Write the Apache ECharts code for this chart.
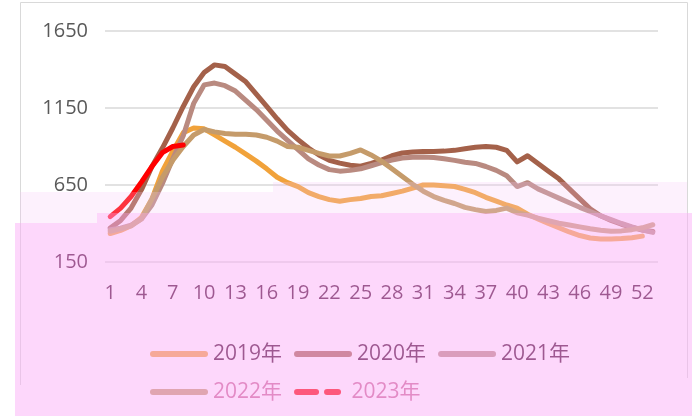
<!DOCTYPE html>
<html>
<head>
<meta charset="utf-8">
<script src="https://cdn.jsdelivr.net/npm/echarts@6/dist/echarts.min.js"></script>
<style>
  html, body { margin: 0; padding: 0; background: #fff; }
  #chart { width: 696px; height: 416px; }
</style>
</head>
<body>
<div id="chart"></div>
<script>
// weeks 1..53
const weeks = []
for (let i = 1; i <= 53; i++) weeks.push(String(i))

const yTicks = [150, 650, 1150, 1650]

const data2019 = [335, 355, 385, 440, 560, 740, 870, 990, 1020, 1015, 975, 935, 895, 850, 805, 755, 700, 665, 640, 600,
    575, 555, 545, 555, 562, 575, 580, 595, 610, 630, 650, 650, 645, 640, 622, 600, 570, 545, 520, 500,
    460, 430, 400, 372, 345, 322, 306, 300, 300, 302, 308, 318]
const data2020 = [370, 420, 500, 620, 770, 890, 1020, 1160, 1288, 1380, 1430, 1420, 1370, 1320, 1240, 1160, 1080, 1005, 945, 890,
    845, 810, 792, 778, 772, 790, 812, 840, 858, 865, 868, 868, 870, 875, 885, 895, 900, 895, 875, 800,
    840, 790, 740, 690, 625, 560, 495, 450, 420, 395, 375, 358, 348]
const data2021 = [360, 370, 390, 430, 520, 660, 820, 970, 1180, 1300, 1312, 1295, 1260, 1200, 1140, 1070, 1000, 940, 880, 820,
    780, 750, 740, 745, 755, 775, 795, 812, 825, 830, 832, 828, 820, 810, 798, 790, 770, 745, 710, 640,
    665, 625, 595, 565, 535, 505, 478, 450, 425, 400, 378, 358, 342]
const data2022 = [350, 365, 385, 430, 560, 700, 810, 900, 975, 1010, 995, 985, 980, 980, 975, 960, 935, 900, 895, 875,
    855, 838, 838, 855, 878, 845, 805, 755, 705, 655, 610, 575, 550, 530, 505, 490, 478, 485, 500, 470,
    455, 435, 418, 402, 390, 378, 366, 356, 350, 352, 360, 372, 392]
const data2023 = [445, 500, 575, 670, 770, 860, 900, 910]

const seriesNames = ['2019年', '2020年', '2021年', '2022年', '2023年']
const seriesColors = ['#F1A23A', '#A4614A', '#B98A80', '#C59B6A', '#FF0000']

const font = "'Open Sans', 'Noto Sans CJK SC', sans-serif"
const tint = '#40002A'
const tintLight = '#CB6795'
const pink = 'rgba(252,176,248,0.5)'
const pinkLight = 'rgba(247,199,247,0.25)'

// legend icons: thick rounded bar, and a two-dash bar for 2023
const solidIcon = 'path://M3,0H55A3,3,0,0,1,55,6H3A3,3,0,0,1,3,0Z'
const dashIcon = 'path://M14,0H33A3,3,0,0,1,33,6H14A3,3,0,0,1,14,0ZM44,0H55A3,3,0,0,1,55,6H44A3,3,0,0,1,44,0Z'

const allData = [data2019, data2020, data2021, data2022, data2023]

const chart = echarts.init(document.getElementById('chart'))

const options = {
    animation: false,
    grid: { left: 105, right: 38, top: 31, bottom: 154 },
    xAxis: {
        type: 'category',
        data: weeks,
        boundaryGap: true,
        axisLine: { show: false },
        axisTick: { show: false },
        axisLabel: { interval: 2, fontSize: 20, margin: 21, color: tint, fontFamily: font },
    },
    yAxis: {
        type: 'value',
        min: yTicks[0],
        max: yTicks[yTicks.length - 1],
        interval: 500,
        axisLine: { show: false },
        axisTick: { show: false },
        axisLabel: {
            fontSize: 20,
            margin: 17,
            fontFamily: font,
            formatter: (v) => String(v),
            color: (v) => (Number(v) === 150 ? tint : '#595959'),
        },
        splitLine: { lineStyle: { color: '#D9D9D9', width: 1.5 } },
    },
    legend: {
        left: 145,
        top: 336,
        width: 440,
        itemWidth: 58,
        itemHeight: 6,
        itemGap: 12,
        icon: solidIcon,
        textStyle: { fontSize: 21, lineHeight: 26, color: tint, fontFamily: font },
        data: [
            { name: '2019年' },
            { name: '2020年' },
            { name: '2021年' },
            { name: '2022年', textStyle: { color: tintLight } },
            { name: '2023年', icon: dashIcon, textStyle: { color: tintLight } },
        ],
    },
    series: seriesNames.map((name, i) => ({
        name,
        type: 'line',
        data: allData[i],
        symbol: 'none',
        color: seriesColors[i],
        lineStyle: { width: 5, cap: 'round', join: 'round', color: seriesColors[i] },
    })),
    graphic: {
        elements: [
            {
                type: 'polyline', silent: true, z: 1,
                shape: { points: [[20.5, 385], [20.5, 2.5], [687.5, 2.5], [687.5, 378]] },
                style: { stroke: '#D9D9D9', lineWidth: 1, fill: null },
            },
            { type: 'rect', silent: true, z: 100, shape: { x: 20, y: 192, width: 77, height: 31 }, style: { fill: pinkLight } },
            { type: 'rect', silent: true, z: 100, shape: { x: 97, y: 192, width: 176, height: 21 }, style: { fill: pinkLight } },
            { type: 'rect', silent: true, z: 100, shape: { x: 273, y: 182, width: 414, height: 31 }, style: { fill: pinkLight } },
            { type: 'rect', silent: true, z: 100, shape: { x: 15, y: 223, width: 82, height: 193 }, style: { fill: pink } },
            { type: 'rect', silent: true, z: 100, shape: { x: 97, y: 213, width: 595, height: 203 }, style: { fill: pink } },
        ],
    },
}

chart.setOption(options)
</script>
</body>
</html>
